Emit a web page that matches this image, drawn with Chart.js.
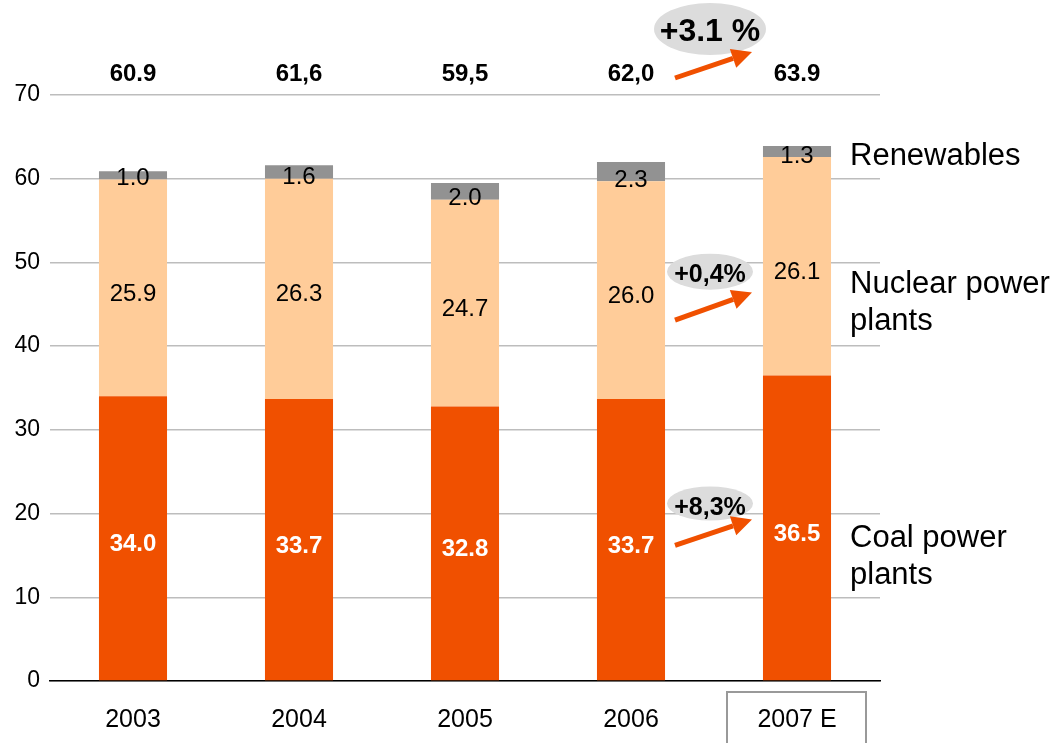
<!DOCTYPE html>
<html>
<head>
<meta charset="utf-8">
<script src="https://cdn.jsdelivr.net/npm/chart.js@4/dist/chart.umd.min.js"></script>
<style>
  html, body { margin: 0; padding: 0; background: #fff; }
  #wrap { position: relative; width: 1058px; height: 743px; }
</style>
</head>
<body>
<div id="wrap"><canvas id="chart" width="1058" height="743"></canvas></div>
<script>
// data
const years = ['2003', '2004', '2005', '2006', '2007 E'];
const coal = [34.0, 33.7, 32.8, 33.7, 36.5];
const nuclear = [25.9, 26.3, 24.7, 26.0, 26.1];
const renewables = [1.0, 1.6, 2.0, 2.3, 1.3];
const totals = ['60.9', '61,6', '59,5', '62,0', '63.9'];
const coalText = ['34.0', '33.7', '32.8', '33.7', '36.5'];
const nuclearText = ['25.9', '26.3', '24.7', '26.0', '26.1'];
const renewText = ['1.0', '1.6', '2.0', '2.3', '1.3'];
const yTicks = [0, 10, 20, 30, 40, 50, 60, 70];

const FONT = 'Liberation Sans, Arial, sans-serif';

// labels inside the segments, totals on top, series names and growth arrows
const labelsPlugin = {
  id: 'labels',
  afterDatasetsDraw(chart) {
    const ctx = chart.ctx;
    const x = chart.scales.x, y = chart.scales.y;
    ctx.save();
    ctx.textAlign = 'center';
    ctx.textBaseline = 'middle';
    years.forEach((yr, i) => {
      const cx = x.getPixelForValue(i);
      // coal
      ctx.fillStyle = '#fff';
      ctx.font = 'bold 24px ' + FONT;
      ctx.fillText(coalText[i], cx, y.getPixelForValue(coal[i] / 2) + 6);
      // nuclear
      ctx.fillStyle = '#000';
      ctx.font = '24px ' + FONT;
      ctx.fillText(nuclearText[i], cx, y.getPixelForValue(coal[i] + nuclear[i] / 2) + 6);
      // renewables
      ctx.fillText(renewText[i], cx, y.getPixelForValue(coal[i] + nuclear[i]) - 1);
      // totals
      ctx.font = 'bold 24px ' + FONT;
      ctx.fillText(totals[i], cx, chart.chartArea.top - 21);
    });

    // series names on the right
    ctx.textAlign = 'left';
    ctx.font = '31px ' + FONT;
    ctx.fillStyle = '#000';
    const lx = chart.chartArea.right - 30;
    ctx.fillText('Renewables', lx, 156);
    ctx.fillText('Nuclear power', lx, 284);
    ctx.fillText('plants', lx, 321);
    ctx.fillText('Coal power', lx, 538);
    ctx.fillText('plants', lx, 575);

    // growth arrows between 2006 and 2007
    const x0 = x.getPixelForValue(3) + 44;
    const x1 = x.getPixelForValue(4) - 45;
    const mid = x.getPixelForValue(3.5) - 4;
    function arrow(yStart, yEnd) {
      ctx.strokeStyle = '#f05000';
      ctx.fillStyle = '#f05000';
      ctx.lineWidth = 5;
      const ang = Math.atan2(yEnd - yStart, x1 - x0);
      const hx = x1 - 20 * Math.cos(ang), hy = yEnd - 20 * Math.sin(ang);
      ctx.beginPath();
      ctx.moveTo(x0, yStart);
      ctx.lineTo(hx, hy);
      ctx.stroke();
      ctx.beginPath();
      ctx.moveTo(x1, yEnd);
      ctx.lineTo(hx + 10 * Math.sin(ang), hy - 10 * Math.cos(ang));
      ctx.lineTo(hx - 10 * Math.sin(ang), hy + 10 * Math.cos(ang));
      ctx.closePath();
      ctx.fill();
    }
    function bubble(cy, rx, ry, text, size, dy) {
      ctx.fillStyle = '#dcdcdc';
      ctx.beginPath();
      ctx.ellipse(mid, cy, rx, ry, 0, 0, Math.PI * 2);
      ctx.fill();
      ctx.fillStyle = '#000';
      ctx.textAlign = 'center';
      ctx.font = 'bold ' + size + 'px ' + FONT;
      ctx.fillText(text, mid, cy + dy);
    }
    bubble(29, 56, 26, '+3.1 %', 32, 3);
    arrow(78, 52);
    bubble(y.getPixelForValue(48.9), 43, 18, '+0,4%', 25, 3);
    arrow(y.getPixelForValue(43.1), y.getPixelForValue(46.4));
    bubble(y.getPixelForValue(21.2), 43, 17, '+8,3%', 25, 5);
    arrow(y.getPixelForValue(16.2), y.getPixelForValue(19.3));

    // box round the estimate year
    const bx = x.getPixelForValue(4);
    ctx.strokeStyle = '#999';
    ctx.lineWidth = 2;
    ctx.strokeRect(bx - 70, 692, 139, 55);
    ctx.restore();
  }
};

new Chart(document.getElementById('chart').getContext('2d'), {
  type: 'bar',
  data: {
    labels: years,
    datasets: [
      { label: 'Coal power plants', data: coal, backgroundColor: '#f05000' },
      { label: 'Nuclear power plants', data: nuclear, backgroundColor: '#ffcc99' },
      { label: 'Renewables', data: renewables, backgroundColor: '#929292' }
    ]
  },
  options: {
    responsive: false,
    animation: false,
    layout: { padding: { top: 95, right: 178, left: 0, bottom: 0 } },
    datasets: { bar: { categoryPercentage: 1, barPercentage: 0.41, borderWidth: 0 } },
    plugins: { legend: { display: false }, tooltip: { enabled: false } },
    scales: {
      x: {
        stacked: true,
        grid: { display: false },
        border: { display: true, color: '#000', width: 1.5 },
        ticks: { color: '#000', font: { family: FONT, size: 25 }, padding: 16 },
        afterFit: s => { s.height = 62; }
      },
      y: {
        stacked: true,
        min: 0,
        max: 70,
        afterBuildTicks: s => { s.ticks = yTicks.map(v => ({ value: v })); },
        grid: { color: '#bdbdbd', lineWidth: 1.5, drawTicks: false },
        border: { display: false },
        ticks: { color: '#000', font: { family: FONT, size: 23 }, padding: 10 },
        afterFit: s => { s.width = 50; }
      }
    }
  },
  plugins: [labelsPlugin]
});
</script>
</body>
</html>
